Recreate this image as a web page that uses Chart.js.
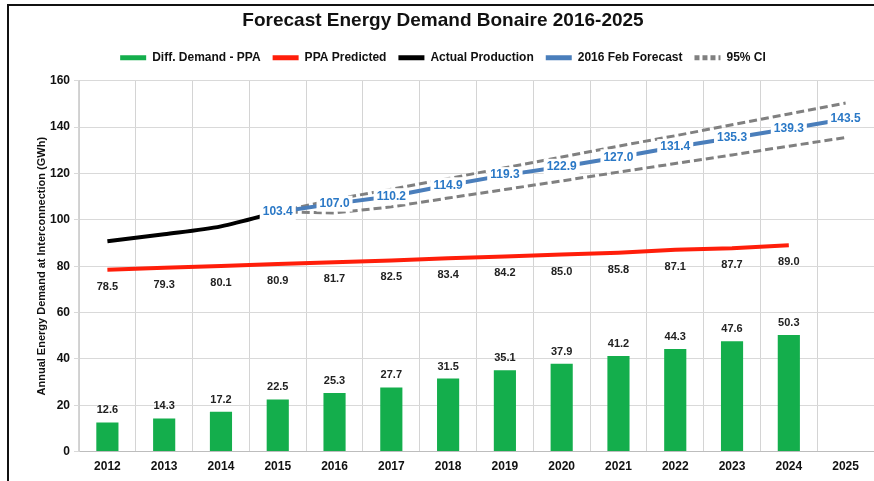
<!DOCTYPE html>
<html>
<head>
<meta charset="utf-8">
<title>Forecast Energy Demand Bonaire 2016-2025</title>
<script src="https://cdn.jsdelivr.net/npm/chart.js@4.4.1/dist/chart.umd.min.js"></script>
<style>
  html, body { margin: 0; padding: 0; background: #fff; overflow: hidden; }
  #wrap { position: relative; width: 874px; height: 481px; }
  #frame { position: absolute; left: 7px; top: 4px; width: 900px; height: 520px;
           border-left: 2px solid #111; border-top: 2px solid #111; pointer-events: none; }
</style>
</head>
<body>
<div id="wrap">
  <canvas id="energyChart" width="874" height="481"></canvas>
  <div id="frame"></div>
</div>
<script>
// Data
var years = ['2012', '2013', '2014', '2015', '2016', '2017', '2018', '2019', '2020', '2021', '2022', '2023', '2024', '2025'];
var diffDemand = [12.6, 14.3, 17.2, 22.5, 25.3, 27.7, 31.5, 35.1, 37.9, 41.2, 44.3, 47.6, 50.3, null];
var ppaPredicted = [78.5, 79.3, 80.1, 80.9, 81.7, 82.5, 83.4, 84.2, 85.0, 85.8, 87.1, 87.7, 89.0, null];
var actualProduction = [90.8, 93.8, 97.2, 103.4, null, null, null, null, null, null, null, null, null, null];
var febForecast = [null, null, null, 103.4, 107.0, 110.2, 114.9, 119.3, 122.9, 127.0, 131.4, 135.3, 139.3, 143.5];
var ciUpper = [null, null, null, 103.4, 108.8, 113.2, 117.8, 122.5, 127.1, 131.8, 136.3, 141.0, 145.7, 150.4];
var ciLower = [null, null, null, 103.4, 103.0, 105.6, 109.4, 113.1, 116.8, 120.6, 124.3, 128.0, 131.8, 135.5];
var yTicks = [0, 20, 40, 60, 80, 100, 120, 140, 160];

var legendNames = ['Diff. Demand - PPA', 'PPA Predicted', 'Actual Production', '2016 Feb Forecast', '95% CI'];
var legendColors = ['#14ae4c', '#ff1e0a', '#000000', '#4a7ebb', '#808080'];

var fontFamily = "'Liberation Sans', Arial, sans-serif";

// Draws the value labels next to the bars / points
var valueLabelPlugin = {
    id: 'valueLabels',
    beforeLayout: function(chart) {
        // leave a bit more room under the legend, like the original
        var lg = chart.legend;
        if (lg && !lg.extraRoom) {
            var baseFit = lg.fit;
            lg.fit = function() {
                baseFit.call(lg);
                lg.height += 7;
            };
            lg.extraRoom = true;
        }
    },
    afterDatasetsDraw: function(chart) {
        var ctx = chart.ctx;
        chart.data.datasets.forEach(function(ds, i) {
            if (!ds.labelPos) return;
            var meta = chart.getDatasetMeta(i);
            ctx.save();
            ctx.font = ds.labelFont;
            ctx.textAlign = 'center';
            ctx.textBaseline = 'middle';
            meta.data.forEach(function(el, j) {
                var v = ds.data[j];
                if (v === null || v === undefined) return;
                var txt = v.toFixed(1);
                var x = el.x, y = el.y;
                if (ds.labelPos === 'above') y -= 12;
                if (ds.labelPos === 'below') y += 17;
                if (ds.labelBg) {
                    var w = ctx.measureText(txt).width + 6;
                    ctx.fillStyle = ds.labelBg;
                    ctx.fillRect(x - w / 2, y - 8, w, 16);
                }
                ctx.fillStyle = ds.labelColor;
                ctx.fillText(txt, x, y);
            });
            ctx.restore();
        });
    }
};

var ctx = document.getElementById('energyChart').getContext('2d');

var energyChart = new Chart(ctx, {
    type: 'bar',
    data: {
        labels: years,
        datasets: [
            {
                label: 'Diff. Demand - PPA',
                data: diffDemand,
                backgroundColor: '#14ae4c',
                borderWidth: 0,
                barPercentage: 0.39,
                categoryPercentage: 1,
                order: 5,
                labelPos: 'above',
                labelColor: '#222',
                labelFont: 'bold 11px ' + fontFamily
            },
            {
                type: 'line',
                label: 'PPA Predicted',
                data: ppaPredicted,
                borderColor: '#ff1e0a',
                borderWidth: 4,
                pointRadius: 0,
                fill: false,
                order: 4,
                labelPos: 'below',
                labelColor: '#222',
                labelFont: 'bold 11px ' + fontFamily
            },
            {
                type: 'line',
                label: 'Actual Production',
                data: actualProduction,
                borderColor: '#000000',
                borderWidth: 4,
                pointRadius: 0,
                tension: 0.3,
                fill: false,
                order: 3
            },
            {
                type: 'line',
                label: '95% CI upper',
                data: ciUpper,
                borderColor: '#808080',
                borderWidth: 3,
                borderDash: [8, 4],
                pointRadius: 0,
                fill: false,
                order: 2
            },
            {
                type: 'line',
                label: '95% CI lower',
                data: ciLower,
                borderColor: '#808080',
                borderWidth: 3,
                borderDash: [8, 4],
                pointRadius: 0,
                fill: false,
                order: 2
            },
            {
                type: 'line',
                label: '2016 Feb Forecast',
                data: febForecast,
                borderColor: '#4a7ebb',
                borderWidth: 4,
                pointRadius: 0,
                fill: false,
                order: 1,
                labelPos: 'center',
                labelBg: '#ffffff',
                labelColor: '#2a78c6',
                labelFont: 'bold 12px ' + fontFamily
            }
        ]
    },
    options: {
        responsive: false,
        animation: false,
        layout: { padding: { left: 12, right: 0, top: 4, bottom: 0 } },
        plugins: {
            title: {
                display: true,
                text: 'Forecast Energy Demand Bonaire 2016-2025',
                color: '#111',
                font: { family: fontFamily, size: 19, weight: 'bold' },
                padding: { top: 5, bottom: 8 }
            },
            legend: {
                labels: {
                    usePointStyle: true,
                    pointStyleWidth: 26,
                    padding: 12,
                    color: '#111',
                    font: { family: fontFamily, size: 12, weight: 'bold' },
                    generateLabels: function() {
                        return legendNames.map(function(name, i) {
                            return {
                                text: name,
                                fillStyle: legendColors[i],
                                strokeStyle: legendColors[i],
                                lineWidth: 5,
                                lineDash: i === 4 ? [5, 3] : [],
                                pointStyle: 'line',
                                hidden: false,
                                fontColor: '#111'
                            };
                        });
                    }
                },
                onClick: function() {}
            },
            tooltip: { enabled: false }
        },
        scales: {
            x: {
                offset: true,
                grid: { offset: true, color: '#d4d4d4', drawTicks: false },
                border: { color: '#bdbdbd' },
                ticks: { padding: 7.5, color: '#111', font: { family: fontFamily, size: 12, weight: 'bold' } }
            },
            y: {
                min: 0,
                max: 160,
                afterBuildTicks: function(scale) {
                    scale.ticks = yTicks.map(function(v) { return { value: v }; });
                },
                afterFit: function(scale) { scale.width = 67; },
                ticks: { padding: 4, color: '#111', font: { family: fontFamily, size: 12, weight: 'bold' } },
                grid: { color: '#d9d9d9', tickLength: 5 },
                border: { color: '#d0d0d0' },
                title: {
                    display: true,
                    text: 'Annual Energy Demand at Interconnection (GWh)',
                    color: '#111',
                    font: { family: fontFamily, size: 11, weight: 'bold' },
                    padding: { top: 23, bottom: 0 }
                }
            }
        }
    },
    plugins: [valueLabelPlugin]
});
</script>
</body>
</html>
